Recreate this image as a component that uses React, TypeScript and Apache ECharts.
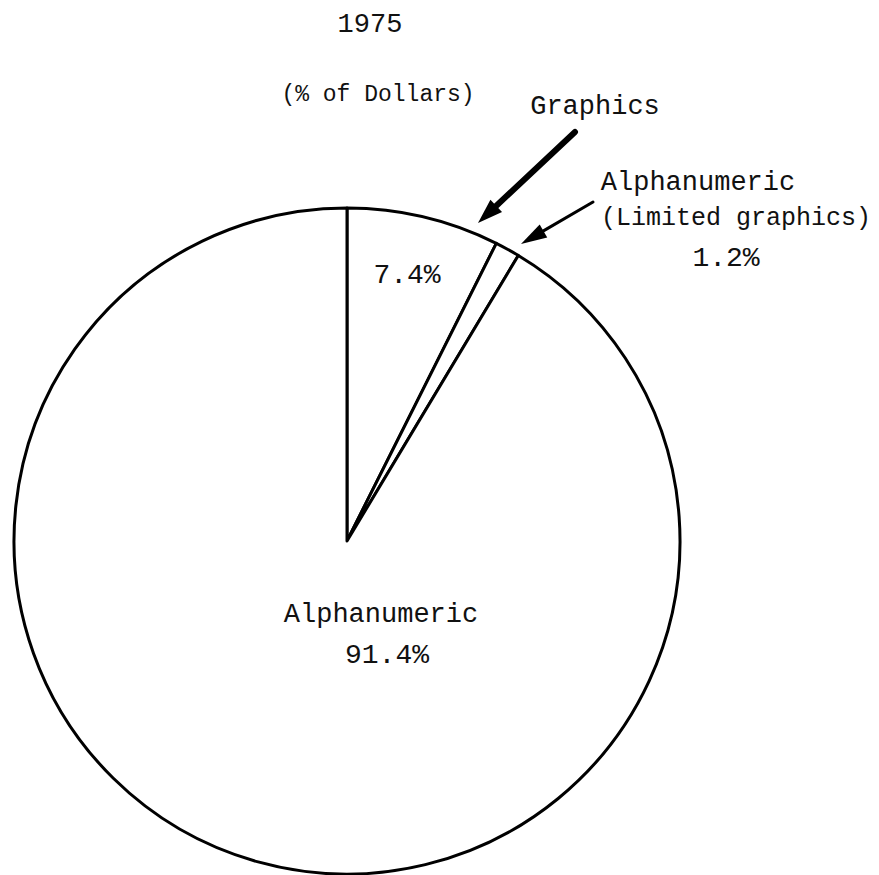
import React, { useEffect, useRef } from "react";
import * as echarts from "echarts";

const title = "1975";
const subtitle = "(% of Dollars)";
const categories = ["Graphics", "Alphanumeric (Limited graphics)", "Alphanumeric"];
const values = [7.4, 1.2, 91.4];

const FONT = "Liberation Mono";

function arrow(x1: number, y1: number, x2: number, y2: number, w: number, headLen: number, headHalf: number) {
  const dx = x2 - x1;
  const dy = y2 - y1;
  const L = Math.sqrt(dx * dx + dy * dy);
  const ux = dx / L;
  const uy = dy / L;
  const nx = -uy;
  const ny = ux;
  const bx = x2 - ux * headLen;
  const by = y2 - uy * headLen;
  return [
    {
      type: "line",
      z: 100,
      shape: { x1, y1, x2: bx + ux * 2, y2: by + uy * 2 },
      style: { stroke: "#000", lineWidth: w, lineCap: "round" },
      silent: true,
    },
    {
      type: "polygon",
      z: 100,
      shape: {
        points: [
          [x2, y2],
          [bx + nx * headHalf, by + ny * headHalf],
          [bx - nx * headHalf, by - ny * headHalf],
        ],
      },
      style: { fill: "#000" },
      silent: true,
    },
  ];
}

function txt(text: string, x: number, y: number, size: number) {
  return {
    type: "text",
    x,
    y,
    z: 100,
    silent: true,
    style: {
      text,
      fill: "#111",
      font: `${size}px "${FONT}"`,
      align: "center",
      verticalAlign: "middle",
    },
  };
}

export default function App() {
  const ref = useRef<HTMLDivElement>(null);
  useEffect(() => {
    if (!ref.current) return;
    const chart = echarts.init(ref.current, null, { renderer: "svg" });
    const data = categories.map((name, i) => ({ name, value: values[i] }));
    chart.setOption({
      animation: false,
      backgroundColor: "#fff",
      series: [
        {
          type: "pie",
          z: 1,
          center: [347, 541],
          radius: [0, 333],
          startAngle: 90,
          clockwise: true,
          silent: true,
          label: { show: false },
          labelLine: { show: false },
          itemStyle: { color: "#fff", borderColor: "#000", borderWidth: 3 },
          emphasis: { disabled: true },
          data,
        },
      ],
      graphic: [
        txt(title, 370, 25, 27),
        txt(subtitle, 378, 95, 23),
        txt(categories[0], 595, 107, 27),
        txt("Alphanumeric", 698, 183, 27),
        txt("(Limited graphics)", 736, 218, 25),
        txt(`${values[1]}%`, 726, 258, 28),
        txt(`${values[0]}%`, 407, 275, 28),
        txt(categories[2], 381, 615, 27),
        txt(`${values[2]}%`, 387, 655, 28),
        ...arrow(575, 132, 478, 223, 6, 25, 8.5),
        ...arrow(593, 202, 521, 244, 3, 26, 7.5),
      ],
    });
    return () => chart.dispose();
  }, []);
  return (
    <div
      ref={ref}
      style={{ position: "fixed", left: 0, top: 0, width: 879, height: 875, background: "#fff" }}
    />
  );
}
